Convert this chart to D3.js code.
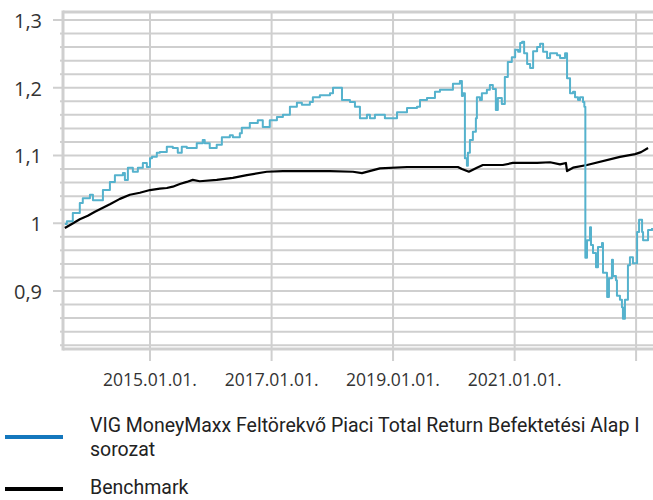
<!DOCTYPE html>
<html><head><meta charset="utf-8">
<script src="https://cdn.jsdelivr.net/npm/d3@7"></script>
<style>body{margin:0;background:#fff;overflow:hidden}</style>
</head><body><svg id="c" width="653" height="500"></svg>
<script>
const fundDates = ["2013-08-07","2013-08-19","2013-09-24","2013-11-05","2013-11-23","2014-01-05","2014-01-23","2014-03-06","2014-03-24","2014-05-05","2014-06-04","2014-06-22","2014-07-22","2014-08-03","2014-08-21","2014-09-20","2014-10-20","2014-11-19","2014-12-13","2015-01-01","2015-01-13","2015-02-11","2015-03-01","2015-04-12","2015-05-18","2015-06-17","2015-07-11","2015-08-10","2015-10-09","2015-11-14","2015-11-26","2015-12-26","2016-02-06","2016-03-08","2016-04-25","2016-05-13","2016-06-24","2016-07-06","2016-08-23","2016-10-10","2016-11-09","2016-12-21","2017-02-02","2017-03-10","2017-04-21","2017-06-02","2017-07-02","2017-08-19","2017-09-06","2017-10-18","2017-12-18","2018-01-05","2018-01-29","2018-02-28","2018-04-17","2018-05-17","2018-06-16","2018-07-28","2018-08-15","2018-09-14","2018-11-13","2018-12-13","2019-01-25","2019-03-26","2019-05-25","2019-06-12","2019-07-24","2019-09-10","2019-10-10","2019-12-27","2020-02-07","2020-02-19","2020-02-25","2020-03-08","2020-03-20","2020-03-26","2020-04-07","2020-04-25","2020-05-13","2020-05-19","2020-06-06","2020-06-18","2020-07-18","2020-08-05","2020-08-23","2020-09-10","2020-09-22","2020-10-16","2020-11-03","2020-11-21","2020-12-15","2021-01-04","2021-01-22","2021-02-03","2021-02-15","2021-02-27","2021-03-17","2021-04-04","2021-04-22","2021-05-16","2021-06-03","2021-06-21","2021-07-15","2021-08-02","2021-09-13","2021-10-01","2021-10-31","2021-11-12","2021-11-30","2021-12-18","2021-12-30","2022-01-17","2022-01-29","2022-02-16","2022-02-24","2022-03-02","2022-03-12","2022-03-30","2022-04-05","2022-04-17","2022-05-05","2022-05-17","2022-06-10","2022-06-16","2022-07-10","2022-07-11","2022-07-22","2022-08-09","2022-08-15","2022-09-02","2022-09-08","2022-09-26","2022-10-08","2022-10-14","2022-10-26","2022-11-13","2022-11-25","2022-12-13","2023-01-01","2023-01-07","2023-01-19","2023-02-06","2023-02-12","2023-03-08","2023-03-14","2023-04-07"];
const fundValues = [0.999,1.003,1.015,1.030,1.037,1.042,1.034,1.034,1.049,1.061,1.071,1.071,1.074,1.064,1.082,1.076,1.082,1.089,1.083,1.096,1.098,1.104,1.105,1.113,1.111,1.104,1.113,1.111,1.118,1.123,1.118,1.111,1.116,1.127,1.130,1.127,1.133,1.141,1.148,1.152,1.142,1.152,1.157,1.160,1.172,1.178,1.175,1.179,1.186,1.189,1.192,1.200,1.200,1.182,1.179,1.172,1.155,1.160,1.155,1.160,1.155,1.155,1.164,1.170,1.172,1.182,1.185,1.194,1.197,1.206,1.210,1.188,1.192,1.096,1.085,1.104,1.123,1.135,1.155,1.186,1.182,1.192,1.197,1.204,1.198,1.167,1.185,1.176,1.216,1.238,1.245,1.256,1.253,1.266,1.268,1.251,1.235,1.229,1.254,1.260,1.265,1.253,1.244,1.251,1.248,1.244,1.251,1.214,1.192,1.194,1.186,1.182,1.186,1.179,1.172,0.949,0.975,0.994,0.968,0.956,0.935,0.965,0.971,0.927,0.921,0.891,0.919,0.946,0.922,0.916,0.893,0.887,0.876,0.859,0.887,0.938,0.950,0.941,0.941,0.987,1.005,0.987,0.975,0.975,0.990,0.993];
const benchDates = ["2013-08-07","2013-09-18","2013-11-05","2013-12-23","2014-02-04","2014-03-18","2014-05-05","2014-07-04","2014-09-02","2014-11-01","2015-01-01","2015-03-01","2015-04-12","2015-05-18","2015-06-29","2015-08-10","2015-09-15","2015-10-27","2016-02-06","2016-05-13","2016-08-05","2016-12-03","2017-03-10","2017-06-20","2017-12-18","2018-05-05","2018-06-28","2018-10-14","2019-03-26","2019-09-22","2020-01-26","2020-02-19","2020-04-01","2020-05-19","2020-06-24","2020-10-22","2020-12-21","2021-05-16","2021-08-02","2021-10-01","2021-11-05","2021-11-12","2021-12-18","2022-03-12","2022-09-26","2022-12-26","2023-01-31","2023-03-14"];
const benchValues = [0.993,0.999,1.006,1.011,1.017,1.022,1.028,1.036,1.042,1.045,1.049,1.051,1.052,1.054,1.058,1.061,1.064,1.062,1.064,1.067,1.071,1.076,1.077,1.077,1.077,1.076,1.074,1.081,1.083,1.083,1.083,1.080,1.076,1.082,1.086,1.086,1.089,1.089,1.090,1.087,1.089,1.077,1.082,1.086,1.098,1.102,1.105,1.111];
const yTickValues = [0.9, 1, 1.1, 1.2, 1.3];
const yTickLabels = ["0,9", "1", "1,1", "1,2", "1,3"];
const yGridStep = 0.02;
const xTickDates = ["2015-01-01", "2017-01-01", "2019-01-01", "2021-01-01", "2023-01-01"];
const xTickLabels = ["2015.01.01.", "2017.01.01.", "2019.01.01.", "2021.01.01.", ""];
const seriesNames = ["VIG MoneyMaxx Feltörekvő Piaci Total Return Befektetési Alap I sorozat", "Benchmark"];
const xDomain = ["2013-07-27", "2023-09-22"];
const yDomain = [0.8144, 1.3118];

const parse = d3.utcParse("%Y-%m-%d");
const W = 653, H = 500;
const L = 63, R = 680, T = 12, B = 349;
const svg = d3.select("#c");

const x = d3.scaleUtc().domain(xDomain.map(parse)).range([L, R]);
const y = d3.scaleLinear().domain(yDomain).range([B, T]);

const gridColor = "#cfcfcf";
const gridVals = d3.range(41, 66).map(i => +(i * yGridStep).toFixed(2));
svg.append("g").selectAll("line").data(gridVals).join("line")
  .attr("x1", L).attr("x2", W).attr("y1", d => y(d)).attr("y2", d => y(d))
  .attr("stroke", gridColor).attr("stroke-width", 2);
svg.append("g").selectAll("line").data(gridVals).join("line")
  .attr("x1", d => yTickValues.some(v => Math.abs(v - d) < 1e-6) ? 53 : 60)
  .attr("x2", L).attr("y1", d => y(d)).attr("y2", d => y(d))
  .attr("stroke", gridColor).attr("stroke-width", 2);

const xt = xTickDates.map(parse);
svg.append("g").selectAll("line").data(xt).join("line")
  .attr("x1", d => x(d)).attr("x2", d => x(d)).attr("y1", T).attr("y2", B + 12)
  .attr("stroke", gridColor).attr("stroke-width", 2);

svg.append("line").attr("x1", L).attr("x2", W).attr("y1", T).attr("y2", T).attr("stroke", gridColor).attr("stroke-width", 3);
svg.append("line").attr("x1", L).attr("x2", W).attr("y1", B).attr("y2", B).attr("stroke", gridColor).attr("stroke-width", 3);
svg.append("line").attr("x1", L).attr("x2", L).attr("y1", T - 1.5).attr("y2", B + 1.5).attr("stroke", gridColor).attr("stroke-width", 3);

svg.append("g").selectAll("text").data(yTickValues).join("text")
  .attr("x", 42).attr("y", d => y(d) + 8)
  .attr("text-anchor", "end")
  .attr("font-family", "'Open Sans', sans-serif").attr("font-size", 20).attr("fill", "#333")
  .text((d, i) => yTickLabels[i]);

svg.append("g").selectAll("text").data(xt).join("text")
  .attr("x", d => x(d)).attr("y", 386)
  .attr("text-anchor", "middle")
  .attr("font-family", "'Open Sans', sans-serif").attr("font-size", 17.5).attr("fill", "#333")
  .text((d, i) => xTickLabels[i]);

const bench = benchDates.map((d, i) => [parse(d), benchValues[i]]);
const fund = fundDates.map((d, i) => [parse(d), fundValues[i]]);
const lineB = d3.line().x(d => x(d[0])).y(d => y(d[1]));
const lineF = d3.line().x(d => x(d[0])).y(d => y(d[1])).curve(d3.curveStepAfter);
svg.append("path").datum(bench).attr("d", lineB).attr("fill", "none")
  .attr("stroke", "#000").attr("stroke-width", 2.2).attr("stroke-linejoin", "round");
svg.append("path").datum(fund).attr("d", lineF).attr("fill", "none")
  .attr("stroke", "#55b2cd").attr("stroke-width", 2).attr("stroke-linejoin", "round");

const lg = svg.append("g").attr("font-family", "Roboto, sans-serif").attr("font-size", 19.5).attr("fill", "#222");
lg.append("line").attr("x1", 5).attr("x2", 63).attr("y1", 437).attr("y2", 437).attr("stroke", "#1477bd").attr("stroke-width", 4);
const words = seriesNames[0].split(" ");
lg.append("text").attr("x", 90).attr("y", 432).text(words.slice(0, -1).join(" "));
lg.append("text").attr("x", 90).attr("y", 456).text(words[words.length - 1]);
lg.append("line").attr("x1", 5).attr("x2", 63).attr("y1", 489).attr("y2", 489).attr("stroke", "#000").attr("stroke-width", 4);
lg.append("text").attr("x", 90).attr("y", 494).text(seriesNames[1]);
</script>
</body></html>
